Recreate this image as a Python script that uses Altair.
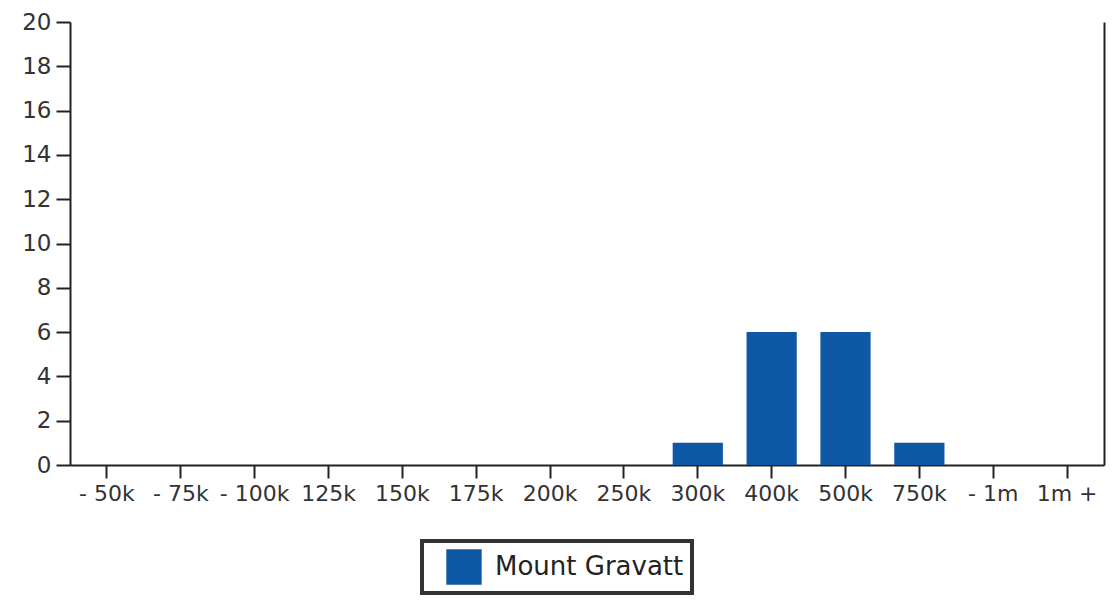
import altair as alt
import pandas as pd

categories = ["- 50k", "- 75k", "- 100k", "125k", "150k", "175k", "200k",
              "250k", "300k", "400k", "500k", "750k", "- 1m", "1m +"]
values = [0, 0, 0, 0, 0, 0, 0, 0, 1, 6, 6, 1, 0, 0]
series = "Mount Gravatt"
bar_color = "#0f58a5"
y_ticks = [0, 2, 4, 6, 8, 10, 12, 14, 16, 18, 20]

df = pd.DataFrame({"band": categories, "count": values, "series": [series] * len(categories)})

FONT = "DejaVu Sans"

x_enc = alt.X("band:N", sort=categories, title=None,
              scale=alt.Scale(paddingInner=0.32, paddingOuter=0.16),
              axis=alt.Axis(labelAngle=0, labelFontSize=22, labelColor="#333333",
                            labelFont=FONT, tickSize=13, tickWidth=2, tickColor="#222222",
                            domainColor="#222222", domainWidth=2, labelPadding=5,
                            labelOverlap=False))

bars = alt.Chart(df).mark_bar().encode(
    x=x_enc,
    y=alt.Y("count:Q", title=None,
            scale=alt.Scale(domain=[0, 20], nice=False),
            axis=alt.Axis(values=y_ticks, grid=False, labelFontSize=23, labelFont=FONT,
                          labelColor="#333333", tickSize=14, tickWidth=2,
                          tickColor="#222222", domainColor="#222222", domainWidth=2,
                          labelPadding=5)),
    color=alt.Color("series:N", title=None,
                    scale=alt.Scale(domain=[series], range=[bar_color]),
                    legend=alt.Legend(orient="none", legendX=352, legendY=519,
                                      padding=8, symbolOffset=16,
                                      strokeColor="#333333", symbolType="square",
                                      symbolSize=1250, symbolStrokeWidth=0,
                                      labelFontSize=26, labelFont=FONT, labelLimit=400,
                                      labelColor="#222222", labelOffset=13)),
)

right = alt.Chart(df).mark_bar(opacity=0).encode(
    x=alt.X("band:N", sort=categories, title=None),
    y=alt.Y("count:Q", title=None,
            axis=alt.Axis(orient="right", labels=False, ticks=False, grid=False,
                          domainColor="#222222", domainWidth=2)),
)

chart = alt.layer(bars, right).resolve_axis(y="independent").properties(
    width=1034, height=443,
    autosize=alt.AutoSizeParams(type="none"),
    padding={"left": 62, "top": 14, "right": 2, "bottom": 130},
    background="white",
).configure_view(stroke=None).configure_legend(strokeWidth=4)

chart.save("out.html", embed_options={"renderer": "svg", "actions": False})
